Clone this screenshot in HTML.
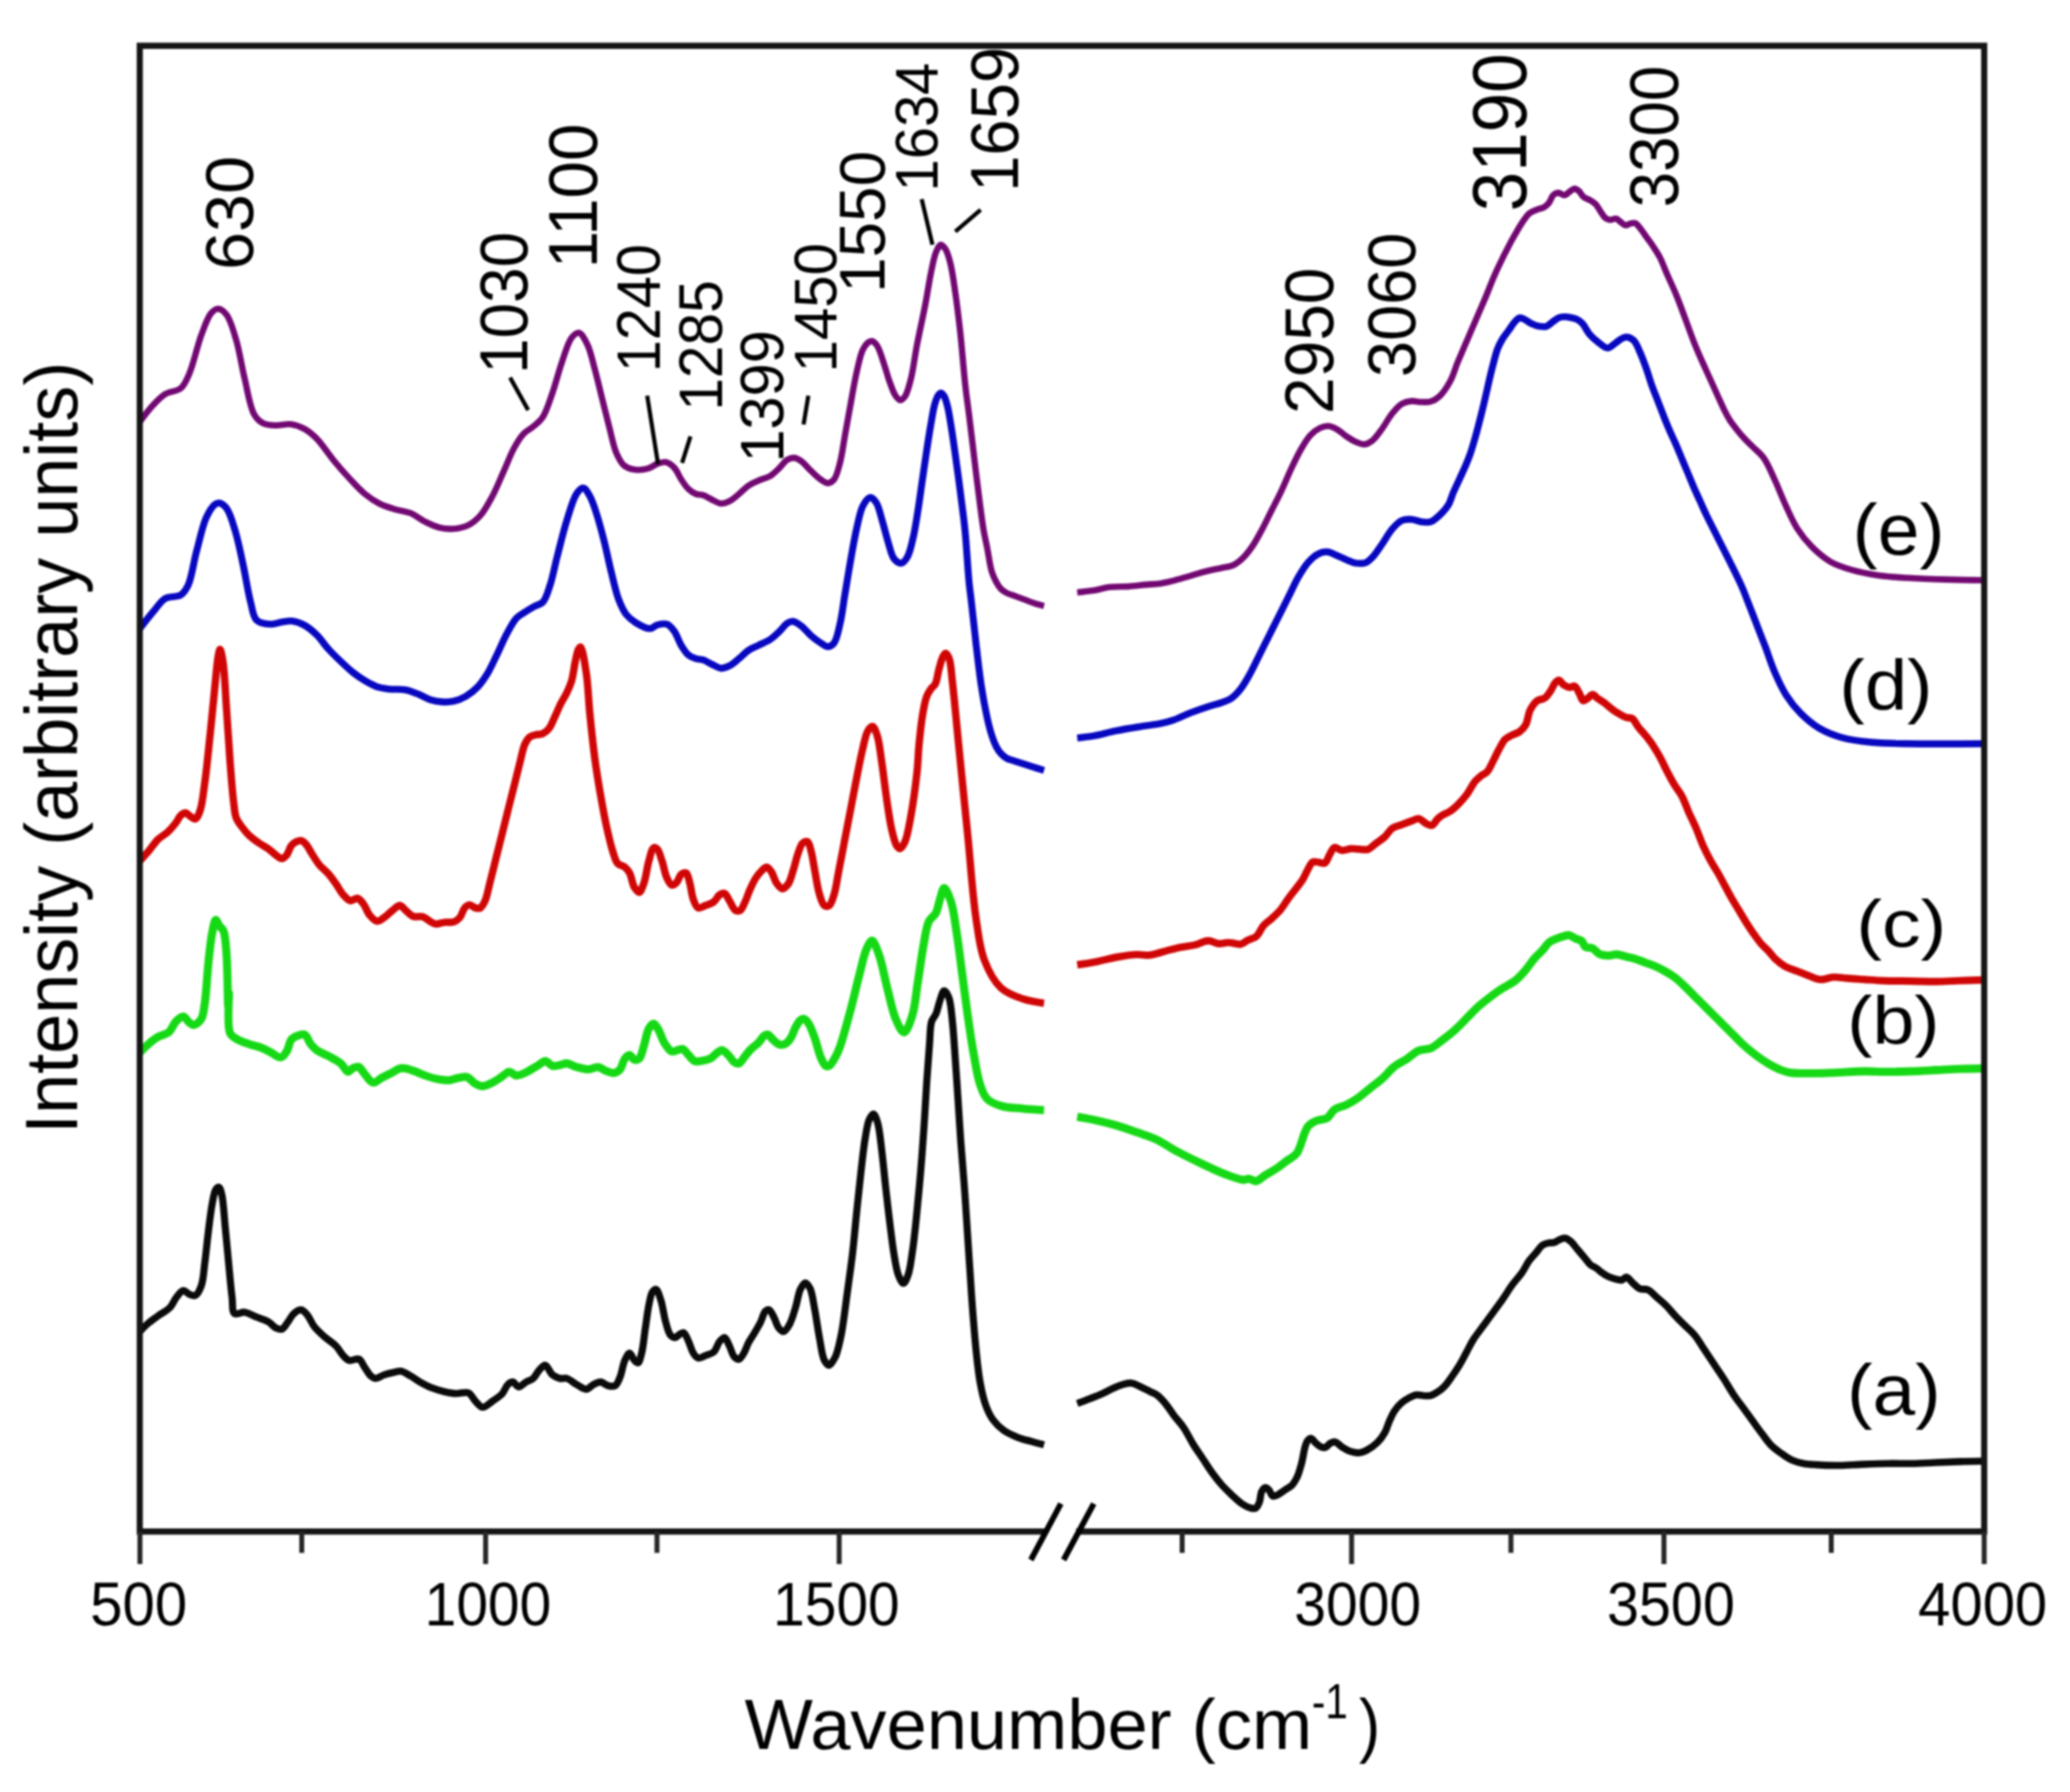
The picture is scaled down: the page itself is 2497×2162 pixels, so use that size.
<!DOCTYPE html>
<html><head><meta charset="utf-8"><title>FTIR spectra</title>
<style>html,body{margin:0;padding:0;background:#fff}svg{display:block;filter:blur(1.1px)}.t{font-family:"Liberation Sans",sans-serif;font-size:100px;fill:#000}</style>
</head><body>
<svg width="2497" height="2162" viewBox="0 0 2497 2162">
<rect width="2497" height="2162" fill="#fff"/>
<path d="M168.6,1606.5C168.6,1606.5 175.3,1599.4 179.0,1596.3C182.7,1593.2 186.5,1590.6 190.6,1587.6C195.2,1584.3 201.4,1581.4 205.1,1577.4C208.4,1574.0 209.6,1569.3 212.4,1565.8C215.0,1562.6 218.2,1557.5 221.1,1557.1C223.5,1556.8 225.8,1560.5 228.3,1561.5C230.7,1562.4 233.4,1563.9 235.6,1562.9C238.5,1561.7 241.0,1556.3 242.8,1551.3C245.5,1544.0 245.8,1532.6 247.2,1522.3C248.7,1510.6 250.0,1496.7 251.5,1484.6C252.9,1473.5 254.2,1461.7 255.9,1452.7C257.2,1446.0 258.1,1438.5 260.2,1435.3C261.3,1433.6 262.9,1432.1 264.0,1432.4C265.5,1432.8 266.5,1437.0 267.5,1441.1C269.6,1449.6 270.4,1467.7 271.8,1481.7C273.3,1496.7 274.8,1513.5 276.2,1528.1C277.5,1541.4 278.6,1555.4 280.0,1565.8C280.9,1573.2 279.6,1582.2 282.9,1584.7C285.5,1586.7 290.9,1582.7 295.1,1583.2C299.8,1583.9 304.7,1587.1 309.6,1589.1C314.4,1591.0 320.0,1592.4 324.1,1594.9C327.5,1596.9 329.8,1600.7 332.8,1602.1C335.2,1603.2 337.8,1604.3 340.0,1603.6C342.8,1602.6 344.9,1597.9 347.3,1594.9C349.8,1591.6 351.6,1587.2 354.5,1584.7C357.1,1582.5 360.5,1580.1 363.2,1580.3C365.9,1580.6 368.2,1583.5 370.5,1586.2C373.6,1589.7 375.8,1596.3 379.2,1600.7C382.6,1605.0 386.6,1608.5 390.8,1612.3C395.3,1616.3 401.3,1619.7 405.3,1623.9C408.8,1627.5 411.0,1632.4 414.0,1635.5C416.4,1637.9 418.3,1640.5 421.3,1641.3C424.5,1642.2 429.7,1638.5 432.9,1639.8C436.1,1641.2 437.7,1646.6 440.1,1650.0C442.5,1653.4 444.8,1657.9 447.4,1660.1C449.2,1661.7 450.9,1663.0 453.2,1663.0C456.1,1663.1 459.8,1659.9 463.3,1658.7C467.0,1657.4 471.3,1656.5 474.9,1655.8C478.0,1655.1 480.6,1653.9 483.6,1654.3C487.3,1654.9 491.4,1658.0 495.2,1660.1C499.1,1662.3 502.7,1665.1 506.8,1667.4C511.3,1669.9 516.4,1672.7 521.3,1674.6C526.1,1676.5 531.0,1677.9 535.8,1679.0C540.6,1680.1 545.5,1681.1 550.3,1681.3C555.2,1681.5 560.9,1678.8 564.9,1680.4C568.6,1682.0 570.5,1687.6 573.6,1690.6C576.3,1693.3 579.1,1697.6 582.3,1697.8C585.8,1698.1 590.1,1693.2 593.9,1690.6C597.8,1687.9 602.3,1685.3 605.5,1681.9C608.5,1678.5 610.1,1672.7 612.7,1670.3C614.5,1668.6 616.5,1667.2 618.5,1667.4C620.9,1667.6 623.2,1673.1 625.8,1673.2C628.5,1673.3 631.5,1669.1 634.5,1667.4C637.3,1665.7 640.6,1665.2 643.2,1663.0C646.1,1660.6 647.8,1655.6 650.4,1652.9C652.7,1650.5 655.3,1646.8 657.7,1647.1C660.7,1647.4 663.1,1656.0 666.4,1658.7C669.1,1660.9 672.1,1662.3 675.1,1663.0C677.9,1663.7 680.8,1662.2 683.8,1663.0C687.5,1664.1 691.5,1668.1 695.4,1670.3C699.3,1672.4 703.7,1676.3 707.3,1676.1C710.4,1675.9 713.0,1671.7 716.0,1670.3C718.8,1668.9 721.8,1667.2 724.7,1667.4C727.6,1667.6 730.4,1671.0 733.4,1671.7C736.2,1672.4 739.7,1673.1 742.1,1671.7C744.8,1670.2 746.1,1665.7 747.9,1661.6C750.2,1656.1 751.3,1646.5 753.7,1641.3C755.4,1637.6 757.5,1632.6 759.5,1632.6C761.4,1632.6 763.3,1639.3 765.3,1641.3C766.7,1642.7 768.4,1644.6 769.6,1644.2C771.6,1643.6 772.7,1637.4 774.0,1632.6C775.9,1625.2 776.9,1613.2 778.3,1603.6C779.8,1593.9 781.0,1582.7 782.7,1574.5C784.0,1568.4 784.9,1561.6 787.0,1558.6C788.3,1556.9 790.0,1555.3 791.4,1555.7C793.6,1556.3 795.5,1563.5 797.2,1568.7C799.5,1575.9 800.8,1587.3 803.0,1594.9C804.7,1600.9 806.1,1607.8 808.8,1610.8C810.4,1612.7 812.7,1613.9 814.6,1613.7C816.6,1613.5 818.5,1610.3 820.4,1609.4C821.9,1608.6 823.4,1607.4 824.7,1607.9C826.9,1608.7 828.7,1614.3 830.5,1618.1C832.6,1622.4 834.0,1629.0 836.4,1632.6C838.1,1635.2 839.8,1637.8 842.2,1638.4C844.6,1639.0 847.9,1636.6 850.9,1635.5C854.1,1634.2 858.2,1633.6 861.0,1631.1C864.2,1628.2 865.6,1621.1 868.3,1618.1C870.1,1616.0 872.3,1613.3 874.1,1613.7C876.3,1614.2 878.0,1620.2 879.9,1623.9C881.9,1627.9 883.2,1634.3 885.7,1636.9C887.3,1638.7 889.7,1640.2 891.5,1639.8C893.6,1639.3 895.5,1635.5 897.3,1632.6C899.5,1629.0 900.9,1623.7 903.1,1619.5C905.2,1615.5 908.0,1611.9 910.3,1607.9C912.8,1603.7 915.4,1599.3 917.6,1594.9C919.7,1590.5 921.0,1583.9 923.4,1581.8C924.7,1580.6 926.4,1579.9 927.7,1580.3C929.8,1581.1 931.7,1585.8 933.5,1589.1C935.6,1592.9 936.9,1599.1 939.3,1602.1C941.0,1604.2 943.2,1606.7 945.1,1606.5C947.6,1606.2 950.3,1601.5 952.4,1597.8C955.3,1592.6 957.5,1584.4 959.6,1577.4C961.9,1570.4 962.9,1561.0 965.4,1555.7C967.1,1552.2 969.3,1548.0 971.3,1547.9C973.1,1547.8 975.4,1551.1 977.1,1554.2C979.9,1559.8 981.0,1571.0 982.9,1580.3C984.9,1591.1 986.6,1604.4 988.7,1615.2C990.5,1624.5 991.5,1635.9 994.5,1641.3C996.1,1644.2 998.4,1647.2 1000.3,1647.1C1002.3,1647.0 1004.6,1642.0 1006.1,1639.8C1007.1,1638.2 1007.5,1637.6 1008.4,1635.4C1010.3,1630.3 1013.1,1618.8 1015.1,1608.6C1017.7,1595.2 1019.6,1577.6 1021.8,1561.7C1024.0,1545.3 1026.5,1528.3 1028.5,1511.5C1030.4,1494.8 1031.8,1477.8 1033.5,1461.3C1035.1,1445.4 1036.8,1429.4 1038.5,1414.4C1040.1,1400.5 1041.6,1385.8 1043.5,1374.3C1045.0,1365.4 1046.1,1356.1 1048.5,1350.8C1050.0,1347.7 1052.0,1344.0 1053.6,1344.1C1055.4,1344.3 1057.2,1349.7 1058.6,1354.2C1061.0,1361.9 1062.1,1375.5 1063.6,1387.7C1065.4,1401.9 1066.9,1419.2 1068.6,1434.5C1070.3,1449.3 1071.9,1464.2 1073.7,1478.0C1075.3,1490.8 1076.8,1504.0 1078.7,1514.9C1080.2,1523.6 1081.3,1532.3 1083.7,1538.3C1085.4,1542.5 1087.8,1548.4 1089.7,1548.3C1091.7,1548.3 1093.8,1542.6 1095.4,1538.3C1097.8,1531.7 1098.9,1521.6 1100.4,1511.5C1102.4,1498.8 1103.9,1483.3 1105.5,1468.0C1107.2,1451.1 1109.0,1432.3 1110.5,1414.4C1112.0,1396.6 1113.3,1378.7 1114.5,1360.9C1115.7,1343.0 1116.7,1324.6 1117.8,1307.3C1118.9,1291.2 1120.1,1274.1 1121.2,1260.4C1122.1,1249.8 1121.7,1238.5 1123.9,1232.0C1125.1,1228.2 1127.4,1227.0 1128.9,1223.6C1130.9,1219.1 1132.1,1211.9 1133.9,1206.9C1135.5,1202.6 1137.0,1195.3 1138.9,1195.2C1140.6,1195.0 1143.1,1199.6 1144.6,1203.5C1147.2,1210.3 1147.8,1222.7 1149.0,1233.7C1150.4,1246.8 1151.2,1262.1 1152.3,1277.2C1153.5,1293.3 1154.6,1310.7 1155.7,1327.4C1156.8,1344.1 1157.8,1360.9 1159.0,1377.6C1160.3,1394.4 1161.8,1411.1 1163.0,1427.8C1164.3,1444.6 1165.3,1461.3 1166.4,1478.0C1167.5,1494.8 1168.6,1511.5 1169.7,1528.3C1170.9,1545.0 1171.8,1561.7 1173.1,1578.5C1174.4,1595.2 1175.8,1612.9 1177.4,1628.7C1178.9,1642.9 1180.2,1656.9 1182.5,1668.9C1184.3,1678.8 1186.3,1687.9 1189.2,1695.7C1191.5,1702.0 1193.9,1707.4 1197.5,1712.4C1201.2,1717.4 1205.9,1722.2 1210.9,1725.8C1215.9,1729.4 1222.0,1731.9 1227.7,1734.2C1233.1,1736.3 1239.0,1737.6 1244.4,1739.2C1249.5,1740.6 1259.4,1743.2 1259.4,1743.2" fill="none" stroke="#0a0a0a" stroke-width="8.6" stroke-linejoin="round" stroke-linecap="butt"/>
<path d="M1299.4,1693.3C1299.4,1693.3 1309.7,1689.5 1314.7,1687.5C1319.6,1685.6 1324.4,1683.9 1329.2,1681.7C1334.1,1679.5 1339.1,1676.5 1343.7,1674.5C1347.7,1672.7 1351.5,1671.1 1355.3,1670.1C1358.7,1669.2 1362.1,1668.2 1365.4,1668.7C1368.9,1669.1 1372.1,1671.4 1375.6,1673.0C1379.4,1674.8 1383.6,1677.0 1387.2,1678.8C1390.3,1680.4 1393.2,1681.2 1395.9,1683.2C1399.0,1685.4 1401.6,1688.4 1404.6,1691.9C1408.4,1696.3 1412.3,1702.7 1416.2,1707.8C1420.0,1712.8 1424.2,1716.9 1427.8,1722.3C1431.9,1728.4 1435.4,1736.2 1439.4,1742.6C1443.2,1748.7 1447.2,1754.2 1451.0,1760.0C1454.9,1765.8 1458.6,1772.0 1462.6,1777.4C1466.4,1782.6 1470.2,1787.5 1474.2,1792.0C1478.0,1796.1 1481.9,1799.9 1485.8,1803.6C1489.7,1807.1 1493.4,1811.0 1497.4,1813.7C1501.2,1816.2 1505.8,1818.7 1509.1,1819.5C1511.2,1820.0 1513.3,1820.4 1514.9,1819.5C1516.8,1818.4 1518.1,1815.1 1519.2,1812.3C1520.6,1808.6 1520.4,1802.2 1522.1,1799.2C1523.2,1797.1 1524.9,1795.0 1526.5,1794.9C1527.9,1794.7 1529.5,1796.4 1530.8,1797.8C1532.5,1799.5 1533.2,1804.2 1535.2,1805.0C1536.8,1805.7 1538.9,1804.5 1541.0,1803.6C1543.7,1802.4 1546.8,1799.7 1549.7,1797.8C1552.6,1795.8 1556.0,1794.4 1558.4,1792.0C1560.8,1789.5 1562.4,1786.8 1564.2,1783.2C1566.5,1778.6 1568.3,1771.9 1570.0,1765.8C1571.7,1759.4 1572.8,1750.6 1574.3,1745.5C1575.3,1742.5 1575.8,1740.0 1577.2,1738.3C1578.4,1736.9 1580.1,1735.2 1581.6,1735.4C1583.4,1735.6 1585.4,1739.5 1587.4,1741.2C1589.3,1742.8 1591.1,1744.7 1593.2,1745.5C1595.0,1746.3 1597.2,1746.7 1599.0,1746.1C1601.1,1745.5 1602.7,1742.2 1604.8,1741.2C1606.6,1740.2 1608.6,1739.3 1610.6,1739.7C1613.3,1740.3 1616.3,1744.2 1619.3,1746.1C1622.1,1747.9 1624.8,1749.7 1628.0,1750.8C1631.5,1752.0 1636.0,1753.1 1639.6,1752.8C1642.7,1752.6 1645.2,1751.5 1648.3,1749.9C1652.4,1747.8 1657.9,1744.0 1661.6,1740.3C1665.1,1736.9 1667.9,1733.0 1670.3,1728.7C1672.8,1724.3 1674.1,1718.8 1676.1,1714.2C1678.0,1710.1 1679.5,1706.2 1681.9,1702.6C1684.3,1699.0 1687.5,1695.2 1690.6,1692.5C1693.4,1690.0 1696.3,1688.3 1699.3,1686.7C1702.2,1685.1 1705.1,1683.4 1708.0,1682.9C1710.9,1682.5 1713.8,1683.6 1716.7,1683.8C1719.6,1683.9 1722.6,1684.4 1725.4,1683.8C1728.4,1683.1 1731.3,1681.3 1734.1,1679.4C1737.2,1677.5 1740.1,1675.1 1742.8,1672.2C1745.9,1668.9 1748.7,1664.6 1751.5,1660.6C1754.5,1656.4 1757.4,1652.1 1760.2,1647.5C1763.3,1642.5 1766.0,1636.9 1768.9,1631.6C1771.8,1626.2 1774.3,1620.8 1777.6,1615.6C1781.1,1610.2 1785.4,1605.0 1789.3,1599.6C1793.1,1594.3 1797.0,1589.0 1800.9,1583.7C1804.7,1578.4 1808.6,1573.2 1812.5,1567.7C1816.4,1562.1 1820.1,1555.8 1824.1,1550.3C1827.8,1545.2 1832.2,1540.8 1835.7,1535.8C1839.0,1531.1 1841.3,1525.6 1844.4,1521.3C1847.1,1517.5 1850.3,1514.4 1853.1,1511.2C1855.6,1508.2 1857.6,1504.4 1860.3,1502.5C1862.6,1500.8 1865.1,1500.1 1867.6,1499.6C1870.0,1499.0 1872.5,1499.7 1874.8,1499.0C1877.3,1498.3 1879.8,1496.1 1882.1,1495.2C1884.1,1494.5 1885.9,1493.5 1887.9,1493.8C1890.2,1494.1 1892.9,1496.2 1895.1,1498.1C1897.8,1500.4 1899.9,1503.8 1902.4,1506.8C1905.2,1510.1 1908.3,1513.7 1911.1,1517.0C1913.6,1520.0 1915.7,1523.4 1918.3,1525.7C1920.6,1527.6 1923.2,1528.4 1925.6,1530.0C1928.1,1531.7 1930.4,1534.1 1932.9,1535.8C1935.2,1537.5 1937.5,1539.0 1940.1,1540.2C1942.8,1541.4 1946.0,1542.3 1948.8,1543.1C1951.3,1543.7 1953.9,1544.9 1956.1,1544.5C1958.2,1544.1 1959.9,1540.6 1961.9,1540.8C1964.2,1541.0 1966.6,1545.2 1969.1,1547.4C1971.9,1549.8 1974.6,1553.2 1977.8,1554.7C1980.9,1556.0 1984.8,1554.7 1988.0,1556.1C1991.6,1557.8 1994.6,1561.8 1998.1,1564.8C2001.9,1568.1 2006.0,1571.3 2009.7,1575.0C2013.7,1579.0 2017.4,1583.9 2021.3,1588.0C2025.1,1592.1 2029.1,1595.8 2032.9,1599.6C2036.8,1603.5 2040.9,1606.8 2044.5,1611.3C2048.7,1616.3 2052.3,1622.9 2056.2,1628.7C2060.0,1634.5 2063.9,1640.3 2067.8,1646.1C2071.6,1651.9 2075.5,1657.5 2079.4,1663.5C2083.3,1669.6 2087.0,1676.4 2091.0,1682.3C2094.7,1687.9 2098.7,1693.0 2102.6,1698.3C2106.4,1703.6 2110.3,1708.9 2114.2,1714.2C2118.0,1719.6 2121.8,1725.0 2125.8,1730.2C2129.6,1735.2 2133.2,1740.6 2137.4,1744.7C2141.2,1748.4 2145.5,1751.2 2149.6,1754.1C2153.4,1756.7 2157.0,1759.4 2161.2,1761.3C2165.6,1763.3 2170.8,1764.7 2175.7,1765.7C2180.5,1766.6 2184.6,1766.8 2190.2,1767.1C2198.2,1767.7 2209.6,1768.1 2219.2,1768.0C2228.9,1767.9 2238.6,1766.9 2248.3,1766.6C2257.9,1766.2 2267.6,1765.8 2277.3,1765.7C2287.0,1765.5 2296.6,1765.9 2306.3,1765.7C2316.0,1765.5 2325.7,1764.9 2335.3,1764.5C2345.0,1764.1 2354.7,1763.7 2364.4,1763.4C2374.1,1763.1 2393.5,1762.8 2393.5,1762.8" fill="none" stroke="#0a0a0a" stroke-width="8.6" stroke-linejoin="round" stroke-linecap="butt"/>
<path d="M168.6,1269.9C168.6,1269.9 175.3,1262.9 179.0,1259.8C182.7,1256.6 186.5,1253.5 190.6,1251.1C194.7,1248.7 200.1,1248.3 203.7,1245.3C207.4,1242.1 209.1,1235.5 212.4,1232.2C215.0,1229.6 218.4,1226.2 221.1,1226.4C223.7,1226.7 225.9,1231.9 228.3,1233.7C230.3,1235.1 232.1,1236.8 234.1,1236.6C236.8,1236.3 240.7,1232.8 242.8,1229.3C245.7,1224.6 245.9,1217.3 247.2,1209.0C249.1,1196.4 249.9,1175.4 251.5,1160.7C252.9,1148.1 254.0,1135.2 255.9,1125.8C257.2,1119.4 258.5,1110.1 260.2,1109.9C261.5,1109.7 263.0,1114.9 264.6,1117.1C266.1,1119.2 268.2,1120.0 269.5,1122.9C272.1,1128.7 272.4,1140.4 273.3,1152.0C274.7,1168.9 274.7,1214.8 275.3,1214.8C275.6,1214.8 275.9,1198.4 276.2,1198.4C276.7,1198.4 273.4,1238.1 277.6,1246.7C279.7,1250.9 282.9,1251.9 286.4,1254.0C290.4,1256.4 296.0,1258.1 300.9,1259.8C305.7,1261.5 310.9,1262.3 315.4,1264.1C319.5,1265.8 323.1,1268.0 327.0,1269.9C330.8,1271.9 335.3,1276.3 338.6,1275.7C341.5,1275.3 343.8,1271.6 345.8,1268.5C348.3,1264.7 348.9,1257.2 351.6,1254.0C353.6,1251.6 356.3,1250.6 358.9,1249.6C361.6,1248.6 365.1,1247.1 367.6,1248.2C370.7,1249.6 372.2,1256.5 374.8,1259.8C377.1,1262.6 379.0,1264.8 382.1,1267.0C385.9,1269.8 391.8,1271.7 396.6,1274.3C401.5,1277.0 407.1,1279.6 411.1,1283.0C414.7,1286.0 417.1,1292.8 419.8,1293.1C421.8,1293.4 423.4,1289.8 425.6,1288.8C427.8,1287.8 430.6,1286.6 432.9,1287.3C435.6,1288.3 437.4,1293.1 440.1,1296.0C443.1,1299.4 446.7,1305.7 450.3,1306.2C453.5,1306.6 456.9,1302.3 460.4,1300.4C464.1,1298.4 468.2,1296.5 472.0,1294.6C475.9,1292.7 479.4,1289.4 483.6,1288.8C488.1,1288.2 493.4,1290.3 498.1,1291.7C503.0,1293.1 507.8,1295.8 512.6,1297.5C517.4,1299.2 522.3,1300.9 527.1,1301.8C531.9,1302.8 537.1,1303.6 541.6,1303.3C545.8,1303.0 549.5,1301.0 553.2,1300.4C556.7,1299.8 560.2,1298.6 563.4,1299.5C567.0,1300.6 570.1,1305.8 573.6,1307.6C576.4,1309.2 579.2,1310.6 582.3,1310.5C585.9,1310.5 590.1,1308.1 593.9,1306.2C597.8,1304.2 601.9,1301.3 605.5,1298.9C608.6,1296.9 611.2,1293.3 614.2,1293.1C617.0,1293.0 619.8,1297.2 622.9,1297.5C626.1,1297.8 629.7,1296.0 633.0,1294.6C636.5,1293.1 640.1,1290.6 643.2,1288.8C645.8,1287.3 648.0,1285.9 650.4,1284.4C652.9,1283.0 655.2,1280.0 657.7,1280.1C660.5,1280.2 663.3,1285.1 666.4,1285.9C669.2,1286.6 672.2,1285.5 675.1,1285.0C678.0,1284.5 680.7,1282.8 683.8,1283.0C687.4,1283.2 691.3,1286.2 695.4,1287.3C699.9,1288.6 705.4,1290.3 709.9,1290.2C714.0,1290.1 718.0,1287.0 721.5,1287.3C724.7,1287.7 727.1,1290.5 730.2,1291.7C733.4,1292.9 737.3,1295.0 740.4,1294.6C743.1,1294.2 745.8,1292.5 747.9,1290.2C750.5,1287.3 751.3,1280.2 753.7,1277.2C755.4,1275.0 757.6,1272.7 759.5,1272.8C761.5,1273.0 763.2,1278.1 765.3,1278.6C767.1,1279.1 769.4,1278.7 771.1,1277.2C773.8,1274.7 775.0,1266.9 776.9,1261.2C778.9,1254.9 780.0,1245.4 782.7,1240.9C784.3,1238.1 786.6,1235.0 788.5,1235.1C790.5,1235.2 792.4,1239.3 794.3,1242.4C796.8,1246.5 798.6,1253.8 801.5,1258.3C804.1,1262.3 807.1,1267.4 810.2,1268.5C812.5,1269.3 815.2,1267.5 817.5,1267.0C819.5,1266.6 821.4,1265.1 823.3,1265.6C825.8,1266.3 828.1,1270.4 830.5,1272.8C833.0,1275.3 835.1,1279.0 837.8,1280.1C840.0,1281.0 842.4,1280.4 845.1,1280.1C848.5,1279.7 853.2,1278.9 856.7,1277.2C860.0,1275.5 862.7,1271.7 865.4,1269.9C867.4,1268.6 869.2,1266.8 871.2,1267.0C873.5,1267.3 876.1,1270.6 878.4,1272.8C881.0,1275.3 883.1,1279.9 885.7,1281.5C887.5,1282.7 889.6,1283.6 891.5,1283.0C894.0,1282.2 896.3,1277.2 898.7,1274.3C901.1,1271.4 903.3,1268.2 906.0,1265.6C908.6,1262.9 912.0,1261.0 914.7,1258.3C917.3,1255.7 919.6,1251.2 921.9,1249.6C923.4,1248.6 924.8,1247.8 926.3,1248.2C928.2,1248.6 930.0,1252.1 932.1,1254.0C934.3,1256.0 936.8,1258.9 939.3,1259.8C941.6,1260.6 944.3,1260.7 946.6,1259.8C949.3,1258.7 951.8,1255.5 953.8,1252.5C956.3,1249.0 957.5,1243.3 959.6,1239.5C961.5,1236.2 963.4,1232.4 965.4,1230.8C966.8,1229.7 968.4,1229.0 969.8,1229.3C971.7,1229.8 973.8,1232.4 975.6,1235.1C978.3,1239.2 980.6,1246.3 982.9,1252.5C985.4,1259.7 987.5,1269.7 990.1,1275.7C991.9,1279.9 993.7,1284.6 995.9,1285.9C997.3,1286.7 998.8,1286.6 1000.3,1285.9C1002.7,1284.6 1005.4,1279.5 1007.5,1275.7C1009.8,1271.7 1011.3,1268.2 1013.4,1262.3C1017.3,1251.4 1022.8,1230.4 1026.8,1215.4C1030.5,1201.5 1033.6,1187.6 1036.8,1175.2C1039.7,1164.4 1041.9,1152.3 1045.2,1145.1C1047.2,1140.6 1049.7,1134.9 1051.9,1135.0C1054.7,1135.2 1057.7,1144.8 1060.3,1151.8C1064.1,1162.1 1066.9,1178.9 1070.3,1192.0C1073.6,1204.5 1076.2,1219.1 1080.3,1228.8C1083.3,1235.7 1087.2,1245.6 1090.4,1245.5C1093.9,1245.4 1097.8,1233.5 1100.4,1225.4C1104.0,1214.6 1104.9,1198.9 1107.1,1185.3C1109.4,1171.1 1111.4,1154.9 1113.8,1141.7C1115.9,1130.7 1117.0,1118.7 1120.5,1111.6C1122.8,1107.0 1126.7,1105.6 1128.9,1101.6C1131.4,1096.9 1132.1,1090.1 1133.9,1084.8C1135.5,1080.1 1136.9,1071.5 1138.9,1071.4C1141.3,1071.3 1145.0,1081.3 1147.3,1088.2C1150.5,1097.9 1151.9,1111.7 1154.0,1125.0C1156.4,1140.4 1158.5,1158.5 1160.7,1175.2C1162.9,1192.0 1165.1,1209.3 1167.4,1225.4C1169.6,1240.5 1171.5,1254.8 1174.1,1269.0C1176.6,1282.7 1178.9,1298.8 1182.5,1309.1C1184.9,1316.1 1186.6,1321.7 1190.8,1325.9C1195.0,1330.1 1201.1,1332.3 1207.6,1334.2C1215.3,1336.6 1225.6,1336.7 1234.3,1337.6C1242.8,1338.4 1259.4,1339.3 1259.4,1339.3" fill="none" stroke="#16d916" stroke-width="9.8" stroke-linejoin="round" stroke-linecap="butt"/>
<path d="M1299.4,1347.4C1299.4,1347.4 1314.8,1350.0 1322.5,1351.7C1330.3,1353.4 1337.8,1355.2 1345.7,1357.5C1354.2,1360.0 1363.4,1363.3 1371.8,1366.2C1379.8,1369.1 1387.4,1371.3 1395.1,1374.9C1403.2,1378.7 1410.7,1384.2 1419.1,1388.7C1428.3,1393.6 1438.4,1398.6 1448.1,1403.2C1457.8,1407.8 1467.9,1412.8 1477.1,1416.3C1485.2,1419.3 1495.2,1423.4 1500.3,1423.5C1502.9,1423.6 1504.0,1422.0 1506.2,1422.1C1508.8,1422.2 1511.8,1425.3 1514.9,1425.0C1518.5,1424.5 1522.4,1420.2 1526.5,1417.7C1531.0,1414.9 1536.5,1412.0 1541.0,1409.0C1545.1,1406.2 1548.7,1403.2 1552.6,1400.3C1556.4,1397.4 1560.7,1396.1 1564.2,1391.6C1569.6,1384.6 1572.2,1365.6 1577.8,1359.0C1581.3,1354.9 1585.4,1353.4 1589.4,1351.7C1593.2,1350.1 1597.7,1350.9 1601.0,1348.8C1604.5,1346.7 1606.1,1341.3 1609.7,1338.7C1613.7,1335.8 1619.5,1335.2 1624.2,1332.9C1629.2,1330.4 1634.0,1327.5 1638.7,1324.2C1643.7,1320.7 1648.4,1316.4 1653.2,1312.6C1658.1,1308.7 1663.0,1305.2 1667.8,1301.0C1672.7,1296.5 1677.2,1290.4 1682.3,1286.5C1686.9,1282.8 1692.0,1280.9 1696.8,1277.8C1701.7,1274.6 1706.2,1269.8 1711.3,1267.6C1715.9,1265.6 1721.1,1266.7 1725.8,1264.7C1730.8,1262.5 1735.5,1258.1 1740.3,1254.5C1745.2,1250.9 1750.1,1247.2 1754.8,1242.9C1759.7,1238.5 1764.5,1233.3 1769.3,1228.4C1774.1,1223.6 1778.8,1218.4 1783.8,1213.9C1788.5,1209.7 1793.4,1206.0 1798.3,1202.3C1803.1,1198.7 1807.9,1195.3 1812.8,1192.2C1817.6,1189.1 1822.9,1186.9 1827.3,1183.5C1831.6,1180.1 1835.1,1176.2 1838.9,1171.9C1843.2,1167.0 1847.6,1160.2 1851.5,1155.7C1854.6,1152.2 1857.4,1150.1 1860.2,1147.0C1863.2,1143.8 1865.8,1139.3 1868.9,1136.8C1871.6,1134.7 1874.7,1133.7 1877.6,1132.5C1880.5,1131.3 1883.7,1130.3 1886.4,1129.6C1888.5,1129.0 1890.1,1127.9 1892.2,1128.1C1894.8,1128.4 1898.1,1131.2 1900.9,1132.5C1903.4,1133.6 1906.2,1133.7 1908.1,1135.4C1910.1,1137.1 1910.3,1141.2 1912.5,1142.6C1914.6,1144.1 1918.4,1142.8 1921.2,1144.1C1924.3,1145.5 1926.5,1149.9 1929.9,1151.3C1933.3,1152.8 1937.9,1152.9 1941.5,1152.8C1944.6,1152.7 1947.1,1151.2 1950.2,1151.3C1953.8,1151.5 1957.9,1153.3 1961.8,1154.2C1965.6,1155.2 1969.5,1155.9 1973.4,1157.1C1977.3,1158.4 1981.1,1160.0 1985.0,1161.5C1988.9,1162.9 1992.8,1164.2 1996.6,1165.8C2000.5,1167.5 2004.4,1169.5 2008.2,1171.6C2012.1,1173.8 2016.0,1176.1 2019.8,1178.9C2023.8,1181.9 2027.6,1185.5 2031.4,1189.1C2035.3,1192.7 2039.1,1196.8 2043.0,1200.7C2046.9,1204.5 2050.7,1208.4 2054.6,1212.3C2058.5,1216.1 2062.3,1220.0 2066.2,1223.9C2070.1,1227.7 2074.0,1231.6 2077.8,1235.5C2081.7,1239.3 2085.6,1243.2 2089.4,1247.1C2093.3,1250.9 2097.1,1255.0 2101.0,1258.7C2104.8,1262.2 2108.7,1265.6 2112.6,1268.8C2116.4,1271.9 2120.3,1274.8 2124.2,1277.5C2128.1,1280.1 2131.9,1282.6 2135.8,1284.8C2139.7,1286.9 2143.5,1289.0 2147.4,1290.6C2151.3,1292.1 2154.3,1293.3 2159.1,1294.1C2166.0,1295.2 2176.2,1294.9 2185.2,1294.9C2194.6,1295.0 2204.1,1294.5 2214.2,1294.1C2225.1,1293.7 2237.4,1292.6 2248.3,1292.5C2258.3,1292.4 2267.6,1293.1 2277.3,1293.1C2287.0,1293.1 2296.6,1292.8 2306.3,1292.5C2316.0,1292.2 2325.7,1291.5 2335.3,1291.0C2345.0,1290.6 2354.7,1289.9 2364.4,1289.6C2374.1,1289.3 2393.5,1289.0 2393.5,1289.0" fill="none" stroke="#16d916" stroke-width="9.8" stroke-linejoin="round" stroke-linecap="butt"/>
<path d="M168.6,1038.8C168.6,1038.8 175.5,1031.3 179.0,1027.2C182.8,1022.7 186.5,1016.7 190.6,1012.7C194.3,1009.2 198.6,1007.3 202.2,1004.0C205.9,1000.6 209.6,996.1 212.4,992.4C214.7,989.4 215.9,985.7 218.2,983.7C219.9,982.1 222.1,980.6 224.0,980.8C226.0,981.0 227.8,983.9 229.8,985.1C231.7,986.3 233.9,988.6 235.6,988.0C237.9,987.3 239.7,982.5 241.4,977.9C244.2,969.9 245.4,955.9 247.2,943.1C249.4,927.5 251.1,908.7 253.0,890.9C255.0,872.0 257.0,850.5 258.8,832.8C260.3,818.1 261.6,800.7 263.1,792.2C263.9,788.2 264.6,783.5 265.5,783.5C266.5,783.5 267.9,791.5 268.9,798.0C271.0,810.9 271.9,836.2 273.3,856.0C274.8,876.8 276.1,900.0 277.6,919.9C279.0,937.4 280.4,957.0 282.0,969.2C282.9,976.5 283.0,981.5 284.9,986.6C286.6,991.0 289.5,994.6 292.2,998.2C294.8,1001.8 297.6,1005.3 300.9,1008.3C304.3,1011.6 308.5,1014.4 312.5,1017.1C316.3,1019.7 320.6,1021.8 324.1,1024.3C327.3,1026.6 329.9,1029.5 332.8,1031.6C335.2,1033.3 337.8,1036.0 340.0,1035.9C342.1,1035.8 344.1,1033.6 345.8,1031.6C348.1,1028.8 349.3,1022.7 351.6,1020.0C353.3,1017.9 355.4,1016.6 357.4,1015.6C359.3,1014.7 361.4,1013.8 363.2,1014.2C365.3,1014.6 367.2,1016.5 369.0,1018.5C371.6,1021.3 373.7,1026.1 376.3,1030.1C379.0,1034.4 381.7,1039.1 385.0,1043.2C388.4,1047.3 393.1,1050.8 396.6,1054.8C399.8,1058.5 402.4,1062.3 405.3,1066.4C408.3,1070.6 410.8,1075.9 414.0,1079.4C416.7,1082.4 419.6,1086.1 422.7,1086.7C425.5,1087.2 428.8,1083.2 431.4,1083.8C434.2,1084.4 436.4,1088.1 438.7,1091.0C441.3,1094.6 443.0,1100.6 445.9,1104.1C448.4,1107.1 451.6,1111.0 454.6,1111.3C457.4,1111.7 460.4,1108.9 463.3,1107.0C466.7,1104.7 470.1,1100.8 473.5,1098.3C476.4,1096.1 479.4,1092.4 482.2,1092.5C484.7,1092.6 486.9,1096.2 489.4,1098.3C492.2,1100.6 494.8,1104.2 498.1,1105.5C501.5,1106.9 506.3,1105.1 509.7,1106.1C513.0,1107.1 515.6,1109.8 518.4,1111.3C520.9,1112.7 523.0,1114.5 525.7,1114.8C528.7,1115.2 532.3,1113.2 535.8,1112.8C539.6,1112.3 544.2,1113.4 547.4,1112.2C550.3,1111.2 552.7,1109.4 554.7,1107.0C557.2,1104.1 558.2,1098.0 560.5,1095.4C562.2,1093.5 564.2,1091.7 566.3,1091.6C568.6,1091.5 571.2,1094.8 573.6,1095.4C575.5,1095.9 577.6,1096.3 579.4,1095.4C581.7,1094.1 583.5,1090.4 585.2,1086.7C587.6,1081.2 589.0,1072.7 591.0,1064.9C593.3,1056.0 595.8,1045.6 598.2,1035.9C600.6,1026.2 603.1,1016.6 605.5,1006.9C607.9,997.2 610.3,987.6 612.7,977.9C615.1,968.2 617.6,958.5 620.0,948.9C622.4,939.2 624.9,928.8 627.2,919.9C629.2,912.1 630.6,903.6 633.0,898.1C634.7,894.4 636.4,891.4 638.8,889.4C640.9,887.7 643.5,887.2 646.1,886.5C648.8,885.7 652.2,886.2 654.8,885.1C657.5,883.8 659.9,881.9 662.0,879.3C664.9,875.7 666.9,869.7 669.3,864.7C671.8,859.6 674.0,853.8 676.5,848.8C678.9,844.2 681.6,840.3 683.8,835.7C686.0,831.1 688.0,826.7 689.6,821.2C691.6,814.5 692.4,804.8 694.0,798.0C695.2,792.6 696.2,786.4 697.7,783.5C698.5,782.0 699.5,780.4 700.3,780.6C702.8,781.3 705.5,800.7 707.3,812.5C709.5,827.1 709.9,845.2 711.6,861.8C713.3,879.0 715.2,897.2 717.4,914.1C719.5,930.0 722.1,945.8 724.7,960.5C727.0,973.7 729.3,986.5 731.9,998.2C734.2,1008.5 736.6,1019.3 739.2,1027.2C741.0,1032.9 742.1,1038.6 745.0,1041.7C747.3,1044.2 751.2,1044.1 753.7,1046.1C756.0,1048.0 757.8,1050.2 759.5,1053.3C761.9,1057.7 762.8,1066.7 765.3,1070.7C767.0,1073.4 769.3,1076.8 771.1,1076.5C773.3,1076.2 775.2,1069.7 776.9,1064.9C779.3,1058.1 780.5,1046.4 782.7,1038.8C784.4,1032.8 786.0,1024.1 788.5,1022.9C789.8,1022.2 791.5,1023.1 792.8,1024.3C795.3,1026.6 796.8,1033.5 798.6,1038.8C800.7,1045.0 802.0,1053.9 804.4,1059.1C806.1,1062.8 808.0,1067.2 810.2,1067.8C812.0,1068.3 814.3,1066.6 816.0,1064.9C818.4,1062.7 819.5,1056.6 821.8,1054.8C823.5,1053.5 826.1,1052.5 827.6,1053.3C829.9,1054.5 830.7,1060.5 832.0,1064.9C833.7,1070.7 834.3,1079.7 836.4,1085.2C837.9,1089.3 839.5,1094.4 842.2,1095.4C844.5,1096.3 847.9,1093.6 850.9,1092.5C854.1,1091.2 858.1,1090.3 861.0,1088.1C863.9,1085.9 865.7,1081.0 868.3,1079.4C870.1,1078.3 872.3,1077.3 874.1,1078.0C876.4,1078.9 877.8,1083.6 879.9,1086.7C882.2,1090.3 884.4,1096.8 887.1,1098.3C888.9,1099.3 891.2,1099.3 892.9,1098.3C895.3,1096.9 896.9,1091.9 898.7,1088.1C900.8,1083.8 902.4,1078.4 904.5,1073.6C906.7,1068.7 909.1,1063.2 911.8,1059.1C914.0,1055.7 916.6,1052.7 919.0,1050.4C921.0,1048.6 923.0,1045.9 924.8,1046.1C926.8,1046.2 928.9,1049.3 930.6,1051.9C932.9,1055.2 934.0,1061.4 936.4,1064.9C938.5,1067.9 941.2,1072.0 943.7,1072.2C946.1,1072.3 948.9,1069.2 950.9,1066.4C953.6,1062.6 954.9,1056.1 956.7,1050.4C958.8,1044.1 960.4,1036.1 962.5,1030.1C964.3,1025.2 965.8,1019.2 968.3,1017.1C970.0,1015.7 972.6,1014.8 974.2,1015.6C976.4,1016.8 977.2,1022.6 978.5,1027.2C980.3,1033.6 981.3,1042.3 982.9,1050.4C984.6,1059.6 986.2,1071.8 988.7,1079.4C990.3,1084.7 991.9,1090.8 994.5,1092.5C996.1,1093.6 998.6,1093.6 1000.3,1092.5C1002.9,1090.8 1004.4,1084.7 1006.1,1079.4C1008.5,1071.8 1009.8,1060.7 1011.9,1050.4C1014.2,1038.7 1016.7,1025.3 1019.1,1012.7C1021.5,1000.1 1024.0,987.6 1026.4,975.0C1028.8,962.4 1031.2,949.6 1033.6,937.3C1036.0,925.4 1038.4,912.5 1040.9,902.5C1042.8,894.7 1044.0,886.7 1046.7,882.2C1048.3,879.3 1050.7,876.1 1052.5,876.4C1054.7,876.7 1056.6,882.9 1058.3,888.0C1061.0,896.3 1062.2,910.5 1064.1,922.8C1066.1,936.4 1067.8,952.6 1069.9,966.3C1071.7,978.6 1073.4,991.3 1075.7,1001.1C1077.4,1008.4 1079.1,1016.2 1081.5,1020.0C1082.8,1022.0 1084.4,1023.9 1085.8,1023.7C1087.8,1023.5 1089.9,1019.4 1091.6,1015.6C1094.8,1008.7 1096.7,995.7 1098.9,983.7C1101.7,968.5 1104.5,947.0 1106.2,931.5C1107.5,919.0 1107.6,909.1 1108.7,897.6C1109.9,885.7 1111.2,871.9 1113.1,861.3C1114.5,853.1 1115.9,845.1 1118.1,839.6C1119.6,835.9 1121.4,833.4 1123.2,830.9C1124.8,828.7 1126.9,827.7 1128.3,825.1C1130.4,821.0 1131.1,813.2 1132.6,807.7C1134.0,802.6 1135.3,796.7 1137.0,793.2C1138.1,790.9 1139.4,788.1 1140.6,788.1C1142.0,788.1 1143.8,791.5 1145.0,794.6C1147.3,800.7 1147.5,811.5 1149.0,823.7C1151.4,844.4 1154.4,878.2 1157.3,907.4C1160.5,939.3 1164.0,974.3 1167.4,1007.8C1170.7,1041.3 1173.3,1080.6 1177.4,1108.3C1180.4,1128.0 1181.8,1143.9 1187.5,1158.5C1192.4,1171.3 1199.0,1184.0 1207.6,1192.0C1215.1,1198.9 1225.4,1202.3 1234.3,1205.3C1242.6,1208.2 1259.4,1210.4 1259.4,1210.4" fill="none" stroke="#d00606" stroke-width="8.9" stroke-linejoin="round" stroke-linecap="butt"/>
<path d="M1299.4,1164.0C1299.4,1164.0 1314.6,1161.8 1322.5,1160.3C1331.0,1158.6 1340.2,1155.9 1348.6,1154.5C1356.6,1153.1 1365.0,1151.8 1371.8,1151.6C1377.2,1151.4 1381.2,1152.9 1386.4,1152.4C1392.6,1151.8 1400.1,1148.9 1406.7,1147.2C1412.7,1145.7 1418.2,1144.1 1424.1,1142.9C1429.8,1141.7 1435.8,1141.3 1441.5,1140.0C1447.0,1138.7 1452.4,1135.1 1457.4,1135.0C1462.0,1134.9 1466.2,1138.2 1470.5,1138.5C1474.4,1138.8 1478.0,1137.0 1482.1,1137.1C1486.7,1137.1 1492.5,1139.9 1496.6,1139.1C1500.0,1138.4 1502.2,1135.7 1505.3,1134.2C1508.5,1132.6 1512.5,1132.3 1515.4,1129.8C1519.0,1126.9 1520.9,1120.5 1524.2,1116.7C1527.2,1113.3 1531.0,1111.1 1534.3,1108.0C1537.8,1104.8 1541.2,1101.7 1544.5,1097.9C1548.0,1093.6 1551.2,1088.0 1554.6,1083.4C1557.9,1078.9 1561.7,1074.4 1564.8,1070.3C1567.4,1066.8 1569.9,1063.8 1572.0,1060.2C1574.2,1056.5 1575.8,1052.1 1577.8,1048.6C1579.7,1045.4 1581.2,1041.1 1583.6,1039.9C1585.7,1038.9 1588.5,1040.2 1590.9,1040.4C1593.3,1040.7 1596.1,1042.3 1598.1,1041.3C1600.7,1040.0 1601.9,1034.4 1603.9,1031.2C1605.8,1028.1 1607.2,1023.2 1609.7,1022.5C1612.1,1021.7 1615.3,1025.6 1618.4,1025.9C1622.0,1026.3 1626.2,1024.1 1630.0,1023.9C1633.9,1023.7 1638.1,1024.6 1641.6,1024.8C1644.8,1024.9 1647.6,1025.7 1650.3,1024.8C1653.4,1023.7 1655.9,1020.5 1659.1,1018.1C1662.6,1015.4 1667.2,1012.6 1670.7,1009.4C1674.0,1006.3 1675.9,1001.7 1679.4,999.3C1682.7,996.9 1687.1,996.4 1691.0,994.9C1694.8,993.4 1699.0,991.8 1702.6,990.5C1705.7,989.5 1708.5,987.3 1711.3,987.6C1714.3,988.0 1717.1,992.1 1720.0,993.4C1722.4,994.6 1725.0,996.4 1727.2,995.8C1729.9,995.0 1732.1,989.8 1734.5,987.6C1736.4,985.9 1738.1,984.7 1740.3,983.3C1742.8,981.7 1746.2,980.8 1749.0,978.9C1752.0,977.0 1754.7,974.6 1757.7,971.7C1761.4,968.1 1765.7,963.4 1769.3,958.6C1773.0,953.7 1776.1,946.7 1779.4,942.7C1781.9,939.8 1784.2,938.0 1786.7,936.0C1789.0,934.1 1791.8,933.5 1794.0,931.1C1796.8,928.0 1798.8,922.5 1801.2,918.0C1803.7,913.3 1805.9,908.0 1808.5,903.5C1810.8,899.4 1812.8,894.8 1815.7,891.9C1818.2,889.4 1821.5,888.3 1824.4,886.7C1827.3,885.2 1830.5,884.6 1833.1,882.6C1835.9,880.6 1838.4,878.0 1840.4,874.5C1842.9,870.0 1843.2,862.0 1845.7,856.9C1848.0,852.4 1851.1,847.7 1854.4,845.3C1857.1,843.4 1860.6,844.1 1863.1,842.4C1866.0,840.4 1868.2,836.8 1870.4,833.7C1872.6,830.5 1874.1,825.7 1876.2,823.5C1877.6,822.0 1879.1,820.5 1880.5,820.6C1882.4,820.8 1884.1,825.0 1886.4,826.4C1888.5,827.8 1891.3,829.2 1893.6,829.3C1895.6,829.5 1897.7,827.2 1899.4,827.9C1901.7,828.8 1903.5,833.6 1905.2,836.6C1906.9,839.4 1907.6,844.6 1909.6,845.3C1911.2,845.8 1913.5,843.5 1915.4,842.4C1917.4,841.1 1919.2,838.0 1921.2,838.0C1923.1,838.0 1924.8,840.8 1927.0,842.4C1929.6,844.2 1932.8,846.1 1935.7,848.2C1938.6,850.4 1941.4,853.2 1944.4,855.4C1947.2,857.6 1950.1,859.5 1953.1,861.2C1955.9,862.9 1958.9,864.6 1961.8,865.6C1964.2,866.4 1966.9,865.6 1969.0,867.0C1971.9,868.9 1973.7,873.9 1976.3,877.2C1979.0,880.6 1982.1,883.8 1985.0,887.3C1987.9,891.0 1990.9,894.8 1993.7,898.9C1996.7,903.4 1999.6,908.3 2002.4,913.4C2005.4,918.9 2008.1,925.2 2011.1,930.9C2013.9,936.3 2016.8,941.8 2019.8,946.8C2022.6,951.4 2025.8,954.9 2028.5,959.9C2031.7,965.8 2034.3,973.6 2037.2,980.2C2040.1,986.6 2043.1,992.5 2045.9,999.0C2048.9,1006.0 2051.6,1014.0 2054.6,1020.8C2057.4,1027.0 2060.3,1032.7 2063.3,1038.2C2066.1,1043.3 2069.2,1047.7 2072.0,1052.7C2075.0,1057.9 2077.8,1063.3 2080.7,1068.7C2083.6,1074.0 2086.5,1079.5 2089.4,1084.6C2092.3,1089.6 2095.2,1094.3 2098.1,1099.1C2101.0,1104.0 2103.9,1108.9 2106.8,1113.6C2109.7,1118.1 2112.6,1122.5 2115.5,1126.7C2118.4,1130.7 2121.2,1134.8 2124.2,1138.3C2127.0,1141.5 2130.1,1143.9 2132.9,1147.0C2135.9,1150.2 2138.3,1154.0 2141.6,1157.1C2145.1,1160.4 2149.0,1163.5 2153.2,1165.8C2157.7,1168.3 2162.9,1169.7 2167.8,1171.6C2172.6,1173.6 2177.4,1175.7 2182.3,1177.4C2187.1,1179.1 2191.9,1181.6 2196.8,1181.8C2201.6,1182.0 2206.2,1179.2 2211.3,1178.9C2216.8,1178.6 2222.7,1179.9 2228.7,1180.3C2235.2,1180.9 2242.0,1181.3 2249.0,1181.8C2256.5,1182.3 2263.7,1182.9 2272.2,1183.2C2282.5,1183.6 2295.4,1183.5 2306.3,1183.7C2316.4,1183.8 2325.7,1184.3 2335.3,1184.2C2345.0,1184.1 2354.7,1183.4 2364.4,1183.1C2374.1,1182.7 2393.5,1182.2 2393.5,1182.2" fill="none" stroke="#d00606" stroke-width="8.9" stroke-linejoin="round" stroke-linecap="butt"/>
<path d="M168.6,758.4C168.6,758.4 179.5,744.3 184.8,738.1C189.7,732.3 193.6,725.5 199.3,722.1C204.8,718.9 213.5,720.8 218.2,717.8C222.3,715.1 224.3,711.5 226.9,706.2C231.2,697.0 233.4,679.0 237.0,665.5C240.7,652.0 244.1,635.1 248.6,624.9C251.7,618.1 255.4,611.7 258.8,609.0C260.7,607.4 262.5,606.6 264.6,606.9C267.3,607.3 270.7,609.9 273.3,613.3C277.5,618.8 280.4,629.5 283.4,639.4C287.3,652.0 290.5,668.4 293.6,682.9C296.7,697.4 299.1,714.5 302.3,726.5C304.6,735.0 305.0,743.8 309.6,748.2C313.6,752.1 321.4,752.8 327.0,753.1C332.0,753.2 336.9,750.8 341.5,750.2C345.5,749.6 349.1,748.7 353.1,749.3C357.7,749.9 363.0,751.9 367.6,754.5C372.7,757.3 377.5,761.6 382.1,766.1C387.2,771.1 391.6,778.1 396.6,783.5C401.3,788.7 406.2,793.4 411.1,798.0C415.9,802.6 420.6,807.1 425.6,811.1C430.3,814.8 435.2,818.3 440.1,821.2C444.8,824.0 449.7,826.8 454.6,828.5C459.3,830.1 463.9,830.7 469.1,831.4C475.3,832.1 483.3,831.1 489.4,832.3C494.7,833.3 499.1,835.3 503.9,837.2C508.8,839.1 513.5,842.3 518.4,843.9C523.2,845.4 528.1,846.4 532.9,846.8C537.8,847.1 542.7,847.0 547.4,845.9C552.4,844.8 557.3,842.8 562.0,840.1C567.0,837.1 572.2,833.0 576.5,828.5C580.9,823.8 584.4,818.5 588.1,812.5C592.2,805.7 595.8,797.2 599.7,789.3C603.6,781.2 607.2,772.2 611.3,764.7C615.0,757.8 618.8,750.2 622.9,745.8C625.7,742.8 628.4,741.6 631.6,739.5C635.1,737.1 639.3,734.5 643.2,732.3C647.0,730.1 651.6,729.8 654.8,726.5C658.9,722.1 660.9,713.9 663.5,706.2C666.8,696.2 669.0,683.6 672.2,671.3C675.7,657.6 679.6,641.1 683.8,627.8C687.4,616.3 691.0,602.5 695.4,595.9C697.9,592.2 700.9,588.4 703.5,588.7C706.4,588.9 709.2,594.5 711.6,598.8C715.0,604.8 717.6,613.6 720.3,622.0C723.4,631.7 726.2,642.8 729.0,653.9C732.0,665.9 734.7,679.6 737.7,691.6C740.5,702.8 743.0,714.7 746.4,723.6C749.0,730.4 751.5,736.2 755.1,741.0C758.4,745.2 762.2,748.3 766.7,751.1C771.7,754.2 779.4,758.5 784.1,758.4C787.6,758.3 789.6,754.9 792.8,754.0C796.3,753.1 801.1,752.0 804.4,753.1C807.8,754.3 810.5,757.8 813.1,761.3C816.5,765.8 818.7,773.6 821.8,778.7C824.6,783.1 827.3,787.6 830.5,790.3C833.2,792.5 836.3,793.7 839.3,794.6C842.1,795.6 844.9,795.1 848.0,796.1C851.6,797.3 855.8,800.1 859.6,801.9C863.0,803.5 866.3,806.0 869.7,806.2C873.1,806.4 876.5,805.0 879.9,803.3C883.8,801.4 887.7,797.7 891.5,794.6C895.4,791.4 899.0,787.2 903.1,784.5C906.8,782.0 910.6,780.7 914.7,778.7C919.2,776.4 924.8,774.4 929.2,771.4C933.5,768.5 937.3,764.7 940.8,761.3C944.0,758.2 946.5,753.9 949.5,752.0C951.8,750.5 954.2,749.4 956.7,749.7C959.9,750.0 963.6,752.9 966.9,755.5C970.8,758.5 974.5,763.6 978.5,767.1C982.3,770.3 986.4,773.5 990.1,775.8C993.1,777.6 996.1,780.2 998.8,780.1C1001.4,780.0 1004.0,778.4 1006.1,775.8C1009.5,771.4 1011.3,761.2 1013.3,752.6C1015.8,742.2 1017.1,730.0 1019.1,717.8C1021.4,704.1 1023.9,688.2 1026.4,674.2C1028.7,661.2 1031.0,647.9 1033.6,636.5C1035.9,627.0 1037.5,616.8 1040.9,610.4C1043.3,605.9 1046.7,600.5 1049.6,600.3C1052.0,600.0 1054.8,603.1 1056.8,606.1C1060.1,610.7 1061.8,620.2 1064.1,627.8C1066.6,636.1 1068.8,645.8 1071.3,653.9C1073.6,661.2 1075.1,670.0 1078.6,674.2C1081.0,677.1 1084.6,679.7 1087.3,679.4C1089.9,679.0 1092.4,675.6 1094.5,672.1C1097.8,666.6 1099.7,656.4 1101.8,647.5C1104.1,637.2 1105.8,625.3 1107.6,614.1C1109.4,602.6 1110.9,590.9 1112.6,579.3C1114.3,567.7 1116.0,555.8 1117.7,544.5C1119.4,533.6 1121.0,522.6 1122.8,512.5C1124.4,503.4 1125.8,493.0 1127.9,486.4C1129.2,482.2 1130.6,478.3 1132.2,476.3C1133.1,475.1 1134.1,474.0 1135.1,474.1C1136.3,474.2 1137.7,476.0 1138.8,477.7C1140.5,480.6 1141.8,485.7 1143.1,490.8C1144.8,497.6 1146.1,506.9 1147.5,515.4C1149.0,524.7 1150.4,534.5 1151.8,544.5C1153.3,554.8 1154.7,565.6 1156.2,576.4C1157.6,587.4 1159.2,598.9 1160.5,609.7C1161.8,620.1 1163.0,628.3 1164.1,640.2C1165.8,657.1 1167.4,685.9 1168.9,701.8C1169.9,711.8 1170.9,718.1 1171.8,726.4C1172.8,735.0 1173.7,743.8 1174.7,752.5C1175.7,761.2 1176.6,770.1 1177.6,778.7C1178.6,787.0 1179.5,795.4 1180.5,803.3C1181.5,810.8 1182.3,817.8 1183.4,825.1C1184.5,832.3 1185.7,839.6 1187.0,846.8C1188.4,854.1 1189.8,861.6 1191.4,868.6C1192.9,875.1 1194.6,881.8 1196.5,887.5C1198.0,892.3 1199.6,896.7 1201.6,900.5C1203.3,903.8 1205.1,906.8 1207.4,909.2C1209.5,911.5 1211.9,913.6 1214.6,915.0C1217.3,916.5 1220.3,916.9 1223.3,917.9C1226.6,919.0 1230.0,920.1 1233.5,921.3C1237.2,922.5 1241.0,923.7 1245.1,925.0C1249.6,926.5 1259.4,929.5 1259.4,929.5" fill="none" stroke="#0808c0" stroke-width="8.4" stroke-linejoin="round" stroke-linecap="butt"/>
<path d="M1299.4,890.4C1299.4,890.4 1310.9,889.3 1317.6,888.2C1326.2,886.7 1336.9,883.6 1346.6,881.7C1356.3,879.7 1366.4,878.1 1375.6,876.6C1384.1,875.2 1392.9,874.4 1400.0,872.9C1405.8,871.8 1410.0,870.7 1415.4,868.8C1421.7,866.6 1428.9,862.8 1435.7,860.1C1442.4,857.5 1449.4,855.0 1456.0,852.9C1462.0,850.9 1468.2,849.5 1473.4,847.7C1477.7,846.1 1481.3,845.2 1485.0,842.7C1489.1,839.9 1493.0,835.7 1496.6,831.1C1500.8,825.8 1504.5,819.0 1508.2,812.3C1512.2,805.0 1515.9,796.8 1519.8,789.1C1523.7,781.3 1527.5,773.6 1531.4,765.8C1535.3,758.1 1539.1,750.4 1543.0,742.6C1546.9,734.9 1550.7,727.2 1554.6,719.4C1558.5,711.7 1562.1,703.3 1566.2,696.2C1569.9,689.9 1573.6,683.6 1577.8,678.8C1581.4,674.7 1585.3,670.8 1589.4,668.7C1593.1,666.7 1597.2,665.5 1601.0,665.8C1604.9,666.0 1608.8,668.5 1612.6,670.1C1616.5,671.7 1620.3,673.8 1624.2,675.3C1628.1,676.9 1631.9,678.8 1635.8,679.4C1639.7,679.9 1644.0,680.1 1647.4,678.8C1650.8,677.5 1653.2,674.7 1656.2,671.6C1660.0,667.5 1663.9,661.1 1667.8,655.6C1671.7,650.0 1675.1,643.0 1679.4,638.2C1683.0,634.1 1686.8,629.9 1691.0,628.0C1694.6,626.4 1698.7,626.4 1702.6,626.6C1706.5,626.8 1710.3,629.0 1714.2,629.5C1718.0,630.0 1722.1,630.7 1725.8,629.5C1729.9,628.1 1733.8,624.1 1737.4,620.8C1741.0,617.4 1744.6,613.5 1747.1,609.2C1749.8,604.8 1750.8,599.6 1752.9,594.7C1755.2,589.5 1757.8,584.1 1760.2,578.8C1762.6,573.4 1765.2,568.0 1767.5,562.8C1769.6,557.9 1771.4,553.5 1773.3,548.3C1775.3,542.5 1777.2,535.7 1779.1,529.4C1780.9,523.2 1782.5,517.0 1784.1,510.6C1785.9,503.9 1787.6,496.9 1789.2,490.3C1790.8,483.9 1792.1,477.7 1793.6,471.4C1795.0,465.1 1796.4,458.7 1797.9,452.5C1799.3,446.6 1800.8,440.7 1802.3,435.1C1803.7,430.1 1804.8,425.1 1806.6,420.6C1808.3,416.5 1810.2,412.7 1812.4,409.0C1814.6,405.4 1817.3,402.2 1819.7,398.9C1822.1,395.5 1824.5,391.4 1826.9,388.7C1828.9,386.6 1830.8,384.2 1832.7,383.6C1834.2,383.2 1835.5,383.8 1837.1,384.4C1839.3,385.2 1842.3,387.5 1844.3,388.7C1845.8,389.5 1846.5,390.1 1848.0,390.8C1850.2,391.8 1853.7,393.2 1856.7,393.7C1859.5,394.1 1862.7,394.5 1865.4,393.7C1868.1,392.8 1870.2,390.3 1872.6,388.6C1875.1,386.9 1877.4,384.6 1879.9,383.5C1882.2,382.5 1884.7,382.1 1887.1,382.1C1889.6,382.0 1892.0,382.6 1894.4,383.1C1896.8,383.6 1899.4,383.9 1901.7,385.0C1904.1,386.2 1906.4,387.8 1908.7,390.2C1911.7,393.3 1914.1,399.4 1917.4,403.2C1920.5,406.8 1923.9,409.9 1927.6,412.6C1931.2,415.4 1935.4,419.9 1939.2,419.9C1942.7,419.9 1946.1,415.5 1949.3,413.4C1952.3,411.4 1955.3,408.6 1958.0,407.6C1960.1,406.8 1961.9,406.4 1963.8,406.8C1966.2,407.3 1968.9,408.9 1971.1,411.2C1974.0,414.3 1976.1,419.9 1978.3,425.0C1980.9,430.7 1983.2,437.3 1985.6,443.8C1988.1,450.8 1990.3,458.6 1992.8,465.6C1995.2,472.1 1997.7,478.2 2000.1,484.5C2002.5,490.7 2004.9,497.2 2007.4,503.3C2009.7,509.2 2012.1,515.1 2014.6,520.7C2017.0,526.2 2019.5,531.2 2021.9,536.7C2024.3,542.3 2026.7,548.3 2029.1,554.1C2031.5,559.9 2034.0,565.7 2036.4,571.5C2038.8,577.3 2041.2,583.2 2043.6,588.9C2046.0,594.4 2048.5,599.5 2050.9,604.9C2053.3,610.2 2054.6,613.5 2058.1,620.8C2066.3,637.9 2091.5,686.0 2100.0,705.1C2104.3,714.6 2105.7,719.2 2108.7,726.8C2112.0,735.1 2115.5,744.2 2118.9,752.9C2122.2,761.7 2125.5,769.9 2129.0,779.1C2132.9,789.3 2136.6,801.4 2141.1,811.6C2145.2,821.1 2149.2,830.1 2154.5,838.4C2159.6,846.5 2165.6,854.0 2172.3,860.7C2179.0,867.4 2186.5,873.7 2194.6,878.6C2202.9,883.4 2211.7,887.0 2221.4,889.7C2232.3,892.8 2244.5,894.3 2257.1,895.5C2271.2,896.9 2284.3,897.0 2301.8,897.3C2326.9,897.8 2393.5,897.3 2393.5,897.3" fill="none" stroke="#0808c0" stroke-width="8.4" stroke-linejoin="round" stroke-linecap="butt"/>
<path d="M168.6,508.9C168.6,508.9 179.3,494.4 184.8,488.6C189.6,483.5 193.8,478.9 199.3,475.5C204.9,472.1 213.3,472.4 218.2,468.3C223.0,464.2 225.1,458.3 228.3,450.9C233.4,439.3 237.9,417.6 242.8,404.4C246.6,394.4 250.0,383.6 254.4,378.3C257.1,375.1 260.1,372.5 263.1,372.5C266.4,372.6 270.3,375.9 273.3,379.8C278.2,386.1 281.5,398.9 284.9,410.2C289.0,424.0 291.4,441.5 295.1,456.7C298.6,471.4 301.4,491.1 306.7,500.2C309.6,505.3 312.6,508.1 316.8,510.3C321.2,512.6 327.3,513.0 332.8,513.2C338.4,513.5 344.4,511.1 350.2,511.8C356.0,512.5 362.3,514.7 367.6,517.6C372.9,520.5 377.1,524.2 382.1,529.2C388.7,535.9 395.5,546.9 402.4,555.3C409.0,563.4 416.1,571.4 422.7,578.5C428.6,584.8 434.0,590.9 440.1,595.9C445.7,600.5 451.3,604.4 457.5,607.5C463.8,610.7 471.3,612.8 477.8,614.8C483.8,616.6 489.6,616.8 495.2,619.1C501.2,621.6 506.7,626.3 512.6,629.3C518.3,632.1 524.1,635.1 530.0,636.5C535.7,637.9 541.7,638.4 547.4,638.0C553.3,637.5 559.6,636.2 564.9,633.6C570.2,631.0 574.9,627.0 579.4,622.0C584.8,616.0 589.3,607.3 593.9,598.8C599.0,589.2 603.8,577.0 608.4,566.9C612.5,557.8 615.8,548.5 620.0,540.8C623.6,534.2 627.3,527.9 631.6,523.4C635.2,519.6 639.4,517.9 643.2,514.7C647.2,511.2 651.4,508.3 654.8,503.1C659.5,495.9 662.7,484.4 666.4,474.1C670.5,462.4 673.9,448.0 678.0,436.4C681.7,426.0 685.0,413.0 689.6,407.3C692.3,404.1 695.5,401.0 698.3,401.5C702.0,402.2 705.8,410.1 708.7,416.0C712.5,423.8 714.6,434.9 717.4,445.1C720.4,456.1 723.2,468.3 726.1,479.9C729.0,491.5 731.9,503.3 734.8,514.7C737.7,525.6 739.9,538.2 743.5,546.6C746.1,552.6 748.5,557.8 752.2,561.1C755.5,564.0 759.5,565.5 763.8,566.3C768.9,567.3 776.1,566.8 781.2,565.4C785.6,564.3 789.0,561.0 792.8,559.6C796.3,558.5 799.7,557.0 803.0,557.6C806.5,558.3 810.2,561.0 813.1,564.0C816.7,567.6 818.8,574.0 821.8,578.5C824.6,582.7 827.4,587.1 830.5,590.1C833.2,592.7 836.2,594.7 839.3,595.9C842.0,597.0 844.9,596.4 848.0,597.4C851.6,598.6 855.8,601.4 859.6,603.2C863.0,604.8 866.3,607.3 869.7,607.5C873.1,607.7 876.5,606.3 879.9,604.6C883.8,602.7 887.7,599.0 891.5,595.9C895.4,592.7 899.0,588.5 903.1,585.8C906.8,583.3 910.6,581.8 914.7,580.0C919.2,577.9 924.8,576.8 929.2,574.2C933.5,571.5 937.3,567.4 940.8,564.0C944.0,560.9 946.3,556.6 949.5,554.7C952.2,553.1 955.3,552.1 958.2,552.4C961.2,552.7 964.0,554.6 966.9,556.7C970.7,559.5 974.6,564.7 978.5,568.3C982.3,571.9 986.4,576.0 990.1,578.5C993.1,580.5 996.1,583.0 998.8,582.9C1001.4,582.8 1004.0,581.0 1006.1,578.5C1009.4,574.5 1011.3,565.8 1013.3,558.2C1015.8,548.8 1017.1,537.6 1019.1,526.3C1021.4,513.6 1023.9,498.9 1026.4,485.7C1028.7,472.9 1031.0,459.3 1033.6,448.0C1035.9,438.4 1037.7,428.1 1040.9,421.8C1043.0,417.7 1045.7,414.0 1048.1,412.6C1049.6,411.7 1051.0,411.3 1052.5,411.7C1054.4,412.3 1056.5,414.8 1058.3,417.5C1061.1,421.8 1063.2,429.7 1065.5,436.4C1068.1,443.6 1070.2,452.4 1072.8,459.6C1075.1,465.8 1077.3,472.9 1080.0,477.0C1081.8,479.7 1083.8,482.6 1085.8,482.8C1087.7,482.9 1089.9,480.8 1091.6,478.4C1094.7,474.2 1096.7,465.1 1098.9,456.7C1101.8,445.3 1103.4,430.1 1106.2,416.0C1109.1,400.6 1113.2,383.2 1116.1,367.8C1118.8,353.7 1120.9,338.8 1123.4,327.2C1125.3,318.4 1126.7,309.7 1129.2,304.0C1130.9,300.2 1132.9,295.5 1135.0,295.3C1136.8,295.1 1139.1,298.4 1140.8,301.1C1143.3,305.2 1144.9,311.6 1146.6,318.5C1149.0,328.0 1150.6,340.9 1152.4,353.3C1154.5,367.7 1156.3,382.7 1158.2,399.7C1160.5,420.5 1162.7,450.1 1164.9,469.0C1166.4,482.2 1167.8,491.0 1169.2,502.4C1170.7,514.2 1172.1,526.6 1173.6,538.7C1175.0,550.7 1176.5,563.0 1177.9,574.9C1179.4,586.6 1180.8,598.5 1182.3,609.7C1183.7,620.2 1185.0,630.9 1186.6,640.2C1188.0,648.1 1189.5,654.2 1191.0,662.0C1192.7,670.8 1194.2,682.9 1196.5,690.2C1198.0,695.0 1199.6,698.2 1201.6,701.8C1203.3,705.0 1205.1,708.1 1207.4,710.5C1209.5,712.6 1211.9,714.1 1214.6,715.5C1217.6,717.1 1221.3,717.9 1224.8,719.2C1228.5,720.5 1232.5,722.1 1236.4,723.5C1240.2,725.0 1244.1,726.6 1248.0,727.9C1251.8,729.1 1259.4,731.1 1259.4,731.1" fill="none" stroke="#720872" stroke-width="7.6" stroke-linejoin="round" stroke-linecap="butt"/>
<path d="M1299.4,714.8C1299.4,714.8 1311.3,713.6 1317.6,712.6C1324.6,711.5 1332.1,709.1 1339.4,708.3C1346.6,707.5 1353.9,708.0 1361.1,707.6C1368.4,707.1 1376.1,706.0 1382.9,705.4C1388.9,704.8 1394.5,704.8 1400.0,703.9C1405.3,703.1 1409.9,701.9 1415.4,700.6C1421.7,699.0 1428.9,696.7 1435.7,694.8C1442.4,692.8 1449.4,690.6 1456.0,689.0C1462.0,687.5 1467.9,686.5 1473.4,685.2C1478.4,684.0 1483.5,683.8 1487.9,681.7C1492.2,679.7 1495.8,676.6 1499.5,673.0C1503.6,669.0 1507.4,663.9 1511.1,658.5C1515.2,652.4 1518.9,645.2 1522.7,638.2C1526.7,630.8 1530.4,622.7 1534.3,615.0C1538.2,607.3 1542.1,599.8 1545.9,591.8C1549.9,583.4 1553.5,574.1 1557.5,565.7C1561.3,557.7 1565.0,549.5 1569.1,542.5C1572.8,536.1 1576.4,529.6 1580.7,525.1C1584.3,521.3 1588.4,518.2 1592.3,516.4C1595.7,514.8 1599.1,513.8 1602.5,514.0C1605.9,514.3 1609.3,516.0 1612.6,517.8C1616.5,519.9 1620.3,523.9 1624.2,526.5C1628.0,529.0 1632.0,531.6 1635.8,533.2C1639.3,534.6 1642.7,536.4 1646.0,536.1C1649.4,535.7 1652.9,533.5 1656.2,530.9C1660.3,527.5 1664.0,521.5 1667.8,516.4C1671.7,510.9 1675.2,504.0 1679.4,498.9C1683.0,494.5 1686.8,489.9 1691.0,487.3C1694.6,485.2 1698.7,484.2 1702.6,483.9C1706.4,483.5 1710.3,484.9 1714.2,485.0C1718.0,485.1 1722.2,485.5 1725.8,484.4C1729.4,483.4 1732.6,481.6 1735.9,478.6C1740.6,474.5 1745.7,466.7 1749.3,460.0C1753.1,453.1 1755.1,445.1 1758.0,437.9C1760.9,431.0 1763.8,424.4 1766.7,417.6C1769.6,410.8 1772.5,404.1 1775.4,397.3C1778.3,390.5 1781.2,383.8 1784.1,377.0C1787.0,370.2 1790.0,363.6 1792.8,356.7C1795.8,349.6 1798.6,341.9 1801.6,334.9C1804.4,328.4 1807.3,322.2 1810.3,316.1C1813.1,310.1 1816.0,304.3 1819.0,298.7C1821.8,293.2 1824.7,287.9 1827.7,282.7C1830.5,277.7 1833.3,272.6 1836.4,268.2C1839.1,264.2 1841.9,259.9 1845.1,257.3C1847.8,255.1 1850.8,254.2 1853.8,253.0C1856.6,251.8 1860.0,251.5 1862.5,250.1C1864.8,248.7 1866.5,247.1 1868.3,245.0C1870.5,242.3 1871.7,236.8 1874.1,234.8C1875.8,233.4 1877.9,232.6 1879.9,232.6C1882.2,232.7 1884.8,235.8 1887.1,235.5C1889.6,235.3 1892.2,231.9 1894.4,230.5C1896.2,229.3 1897.8,227.6 1899.5,227.6C1901.2,227.6 1902.9,229.1 1904.6,230.5C1906.6,232.2 1908.1,235.9 1910.4,237.7C1912.5,239.4 1915.2,239.9 1917.6,241.3C1920.1,242.8 1922.8,244.3 1924.9,246.4C1927.2,248.8 1928.7,252.3 1930.7,255.1C1932.6,257.9 1934.3,261.4 1936.5,263.1C1938.2,264.4 1940.2,265.1 1942.3,265.3C1944.5,265.5 1947.3,263.3 1949.5,263.8C1951.7,264.3 1953.4,266.8 1955.3,268.2C1957.2,269.5 1959.1,271.6 1961.1,271.8C1963.0,272.0 1965.0,270.0 1966.9,269.6C1968.8,269.2 1971.0,268.6 1972.7,269.3C1974.9,270.2 1976.6,273.1 1978.5,275.4C1980.9,278.3 1983.4,282.2 1985.8,285.6C1988.2,289.0 1990.6,292.1 1993.1,295.7C1995.9,300.0 1999.1,304.6 2001.9,309.8C2005.1,315.8 2007.5,322.9 2010.6,330.1C2014.2,338.3 2017.9,345.8 2022.2,356.2C2028.5,371.5 2038.3,399.9 2043.6,413.4C2046.6,420.9 2048.4,425.1 2050.9,430.8C2053.3,436.2 2055.7,441.4 2058.1,446.7C2060.5,452.1 2063.0,457.4 2065.4,462.7C2067.8,468.0 2070.2,473.3 2072.6,478.7C2075.1,484.0 2077.4,489.6 2079.9,494.6C2082.2,499.2 2084.5,503.5 2087.1,507.7C2089.8,511.7 2092.9,515.6 2095.9,519.3C2098.7,522.8 2101.6,526.2 2104.6,529.4C2107.4,532.5 2110.0,534.9 2113.3,538.1C2117.5,542.4 2123.4,546.7 2127.7,552.7C2132.9,559.9 2136.7,570.1 2141.1,579.5C2145.7,589.4 2149.8,600.8 2154.5,610.7C2158.8,620.1 2162.6,629.2 2167.9,637.5C2173.0,645.6 2179.0,653.1 2185.7,659.8C2192.4,666.5 2199.9,673.0 2208.0,677.7C2216.2,682.4 2225.4,685.2 2234.8,687.9C2244.7,690.8 2255.3,692.6 2266.1,694.2C2277.5,695.8 2289.2,696.5 2301.8,697.3C2315.8,698.2 2331.3,698.7 2346.4,699.1C2361.9,699.6 2393.5,700.0 2393.5,700.0" fill="none" stroke="#720872" stroke-width="7.6" stroke-linejoin="round" stroke-linecap="butt"/>
<path d="M1262,1847.8 H168.6 V55.2 H2393.5 V1847.8 H1298" fill="none" stroke="#151515" stroke-width="7.4" stroke-linejoin="miter" stroke-linecap="butt"/>
<line x1="168.8" y1="1847.8" x2="168.8" y2="1887" stroke="#262626" stroke-width="6"/>
<line x1="585.8" y1="1847.8" x2="585.8" y2="1887" stroke="#262626" stroke-width="6"/>
<line x1="1012.3" y1="1847.8" x2="1012.3" y2="1887" stroke="#262626" stroke-width="6"/>
<line x1="1630.4" y1="1847.8" x2="1630.4" y2="1887" stroke="#262626" stroke-width="6"/>
<line x1="2007.2" y1="1847.8" x2="2007.2" y2="1887" stroke="#262626" stroke-width="6"/>
<line x1="2393.5" y1="1847.8" x2="2393.5" y2="1887" stroke="#262626" stroke-width="6"/>
<line x1="364" y1="1847.8" x2="364" y2="1873.5" stroke="#262626" stroke-width="6"/>
<line x1="792.5" y1="1847.8" x2="792.5" y2="1873.5" stroke="#262626" stroke-width="6"/>
<line x1="1426" y1="1847.8" x2="1426" y2="1873.5" stroke="#262626" stroke-width="6"/>
<line x1="1822.6" y1="1847.8" x2="1822.6" y2="1873.5" stroke="#262626" stroke-width="6"/>
<line x1="2209" y1="1847.8" x2="2209" y2="1873.5" stroke="#262626" stroke-width="6"/>
<line x1="1243.5" y1="1882" x2="1279.7" y2="1814.2" stroke="#000" stroke-width="7"/>
<line x1="1283" y1="1882" x2="1319.4" y2="1814.2" stroke="#000" stroke-width="7"/>
<line x1="615.3" y1="455.5" x2="637.1" y2="494.7" stroke="#000" stroke-width="5"/>
<line x1="780.7" y1="477.3" x2="793.8" y2="560" stroke="#000" stroke-width="5"/>
<line x1="832.9" y1="526.6" x2="822.8" y2="558.5" stroke="#000" stroke-width="5"/>
<line x1="975.1" y1="477.3" x2="969.3" y2="512.1" stroke="#000" stroke-width="5"/>
<line x1="1111.8" y1="240.2" x2="1124.8" y2="295.3" stroke="#000" stroke-width="5"/>
<line x1="1182.9" y1="253.2" x2="1152.4" y2="279.3" stroke="#000" stroke-width="5"/>
<text transform="translate(108.79,1961.25) scale(0.7019,0.7463)" class="t">500</text>
<text transform="translate(512.25,1961.25) scale(0.6867,0.7463)" class="t">1000</text>
<text transform="translate(932.55,1961.25) scale(0.6867,0.7463)" class="t">1500</text>
<text transform="translate(1561.22,1961.25) scale(0.6882,0.7463)" class="t">3000</text>
<text transform="translate(1938.40,1961.25) scale(0.6938,0.7463)" class="t">3500</text>
<text transform="translate(2313.72,1961.25) scale(0.7006,0.7463)" class="t">4000</text>
<text transform="translate(898.36,2109.65) scale(0.8716,0.8601)" class="t">Wavenumber (cm</text>
<text transform="translate(1582.61,2072.50) scale(0.4868,0.5905)" class="t">-1</text>
<text transform="translate(1639.32,2109.65) scale(0.7733,0.8601)" class="t">)</text>
<text transform="translate(2228.02,1706.93) scale(0.9248,0.8708)" class="t">(a)</text>
<text transform="translate(2228.31,1259.09) scale(0.9112,0.8150)" class="t">(b)</text>
<text transform="translate(2239.17,1142.31) scale(0.9327,0.8043)" class="t">(c)</text>
<text transform="translate(2218.75,856.42) scale(0.9203,0.8472)" class="t">(d)</text>
<text transform="translate(2234.83,668.75) scale(0.9066,0.8794)" class="t">(e)</text>
<text transform="translate(304.98,325.83) rotate(-90) scale(0.8253,0.8198)" class="t">630</text>
<text transform="translate(636.18,451.08) rotate(-90) scale(0.7701,0.8198)" class="t">1030</text>
<text transform="translate(720.36,323.69) rotate(-90) scale(0.8118,0.8410)" class="t">1100</text>
<text transform="translate(795.96,449.11) rotate(-90) scale(0.6948,0.7392)" class="t">1240</text>
<text transform="translate(871.36,495.62) rotate(-90) scale(0.7089,0.7378)" class="t">1285</text>
<text transform="translate(945.36,558.08) rotate(-90) scale(0.7177,0.7378)" class="t">1399</text>
<text transform="translate(1009.28,449.16) rotate(-90) scale(0.7014,0.7180)" class="t">1450</text>
<text transform="translate(1067.22,353.28) rotate(-90) scale(0.7701,0.7774)" class="t">1550</text>
<text transform="translate(1131.38,230.94) rotate(-90) scale(0.6981,0.7180)" class="t">1634</text>
<text transform="translate(1228.48,231.60) rotate(-90) scale(0.7867,0.8198)" class="t">1659</text>
<text transform="translate(1607.96,499.47) rotate(-90) scale(0.7948,0.8410)" class="t">2950</text>
<text transform="translate(1706.58,454.94) rotate(-90) scale(0.7837,0.8198)" class="t">3060</text>
<text transform="translate(1841.38,255.02) rotate(-90) scale(0.8577,0.9230)" class="t">3190</text>
<text transform="translate(2024.26,250.29) rotate(-90) scale(0.7697,0.8410)" class="t">3300</text>
<text transform="translate(93.36,1368.03) rotate(-90) scale(0.8686,0.8836)" class="t">Intensity (arbitrary units)</text>
</svg>
</body></html>
